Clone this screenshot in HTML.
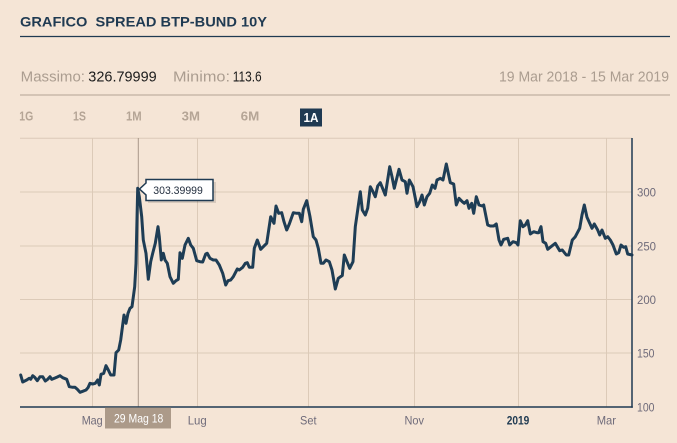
<!DOCTYPE html>
<html><head><meta charset="utf-8"><style>
html,body{margin:0;padding:0;background:#f5e5d6;}
svg{display:block;}
text{font-family:"Liberation Sans",sans-serif;}
</style></head><body>
<svg width="677" height="443" viewBox="0 0 677 443" xmlns="http://www.w3.org/2000/svg">
<rect width="677" height="443" fill="#f5e5d6"/>
<text x="20" y="26.5" font-size="14" font-weight="bold" fill="#1f3a52" textLength="247" lengthAdjust="spacingAndGlyphs">GRAFICO&#160; SPREAD BTP-BUND 10Y</text>
<line x1="20" y1="36.5" x2="670" y2="36.5" stroke="#1f3a52" stroke-width="1.2"/>
<g font-size="15">
<text x="20.7" y="81.5" fill="#ab9d90" textLength="64.3" lengthAdjust="spacingAndGlyphs">Massimo:</text>
<text x="88.3" y="81.5" fill="#1c1c1c" textLength="68.4" lengthAdjust="spacingAndGlyphs">326.79999</text>
<text x="173" y="81.5" fill="#ab9d90" textLength="57" lengthAdjust="spacingAndGlyphs">Minimo:</text>
<text x="232.7" y="81.5" fill="#1c1c1c" textLength="29" lengthAdjust="spacingAndGlyphs">113.6</text>
<text x="499" y="81.5" fill="#ab9d90" textLength="170" lengthAdjust="spacingAndGlyphs">19 Mar 2018 - 15 Mar 2019</text>
</g>
<line x1="20" y1="95" x2="670" y2="95" stroke="#b3a394" stroke-width="1"/>
<g font-size="12.5" font-weight="bold" fill="#b5a596">
<text x="19.3" y="120.3" textLength="14" lengthAdjust="spacingAndGlyphs">1G</text>
<text x="73" y="120.3" textLength="13" lengthAdjust="spacingAndGlyphs">1S</text>
<text x="126" y="120.3" textLength="15.7" lengthAdjust="spacingAndGlyphs">1M</text>
<text x="181.7" y="120.3" textLength="18.3" lengthAdjust="spacingAndGlyphs">3M</text>
<text x="240.7" y="120.3" textLength="18.6" lengthAdjust="spacingAndGlyphs">6M</text>
</g>
<rect x="300" y="108.5" width="22" height="18" fill="#1f3a52"/>
<text x="303.5" y="122" font-size="12.5" font-weight="bold" fill="#ffffff" textLength="15" lengthAdjust="spacingAndGlyphs">1A</text>
<!-- grid -->
<g stroke="#dccab8" stroke-width="1">
<line x1="20" y1="138.3" x2="632" y2="138.3"/>
<line x1="20" y1="192" x2="632" y2="192"/>
<line x1="20" y1="246" x2="632" y2="246"/>
<line x1="20" y1="299.5" x2="632" y2="299.5"/>
<line x1="20" y1="353" x2="632" y2="353"/>
<line x1="92.5" y1="138" x2="92.5" y2="407"/>
<line x1="197.5" y1="138" x2="197.5" y2="407"/>
<line x1="308.5" y1="138" x2="308.5" y2="407"/>
<line x1="414.5" y1="138" x2="414.5" y2="407"/>
<line x1="518.5" y1="138" x2="518.5" y2="407"/>
<line x1="606.5" y1="138" x2="606.5" y2="407"/>
</g>
<line x1="138.3" y1="138" x2="138.3" y2="407" stroke="#a8978a" stroke-width="1"/>
<polyline fill="none" stroke="#1e3d55" stroke-width="3" stroke-linejoin="round" stroke-linecap="round" points="20.7,375 22.7,382 26.7,380 29.3,378.3 30.7,379.3 32.7,375.7 34.7,377.3 37.3,380.7 40,376.7 42.7,376.7 45.3,381 47.7,379.3 50,376.7 51.7,379.3 55,378 57.3,377 60,375.7 62.7,377.7 66.7,379.3 69.3,386.7 72.7,387.3 75,387.3 77.3,389.3 80,392.3 82.7,391.3 86,390 88,387.7 90,383.3 92.7,384 95.3,383.3 97.7,380 99.3,385 101,374.3 103.7,373.3 106,365.7 108.3,370 110.7,375 114,375 116,352.7 118.7,350 120.7,340 124,315 126,323.3 128,313.3 130,308.3 132,306.7 134.7,286.7 136,263.3 137.7,188.3 139.3,196.7 141.7,216.7 143.3,240 146,253.3 148.3,279.3 150.7,261.7 152.7,253.3 155.3,243.3 158,226.7 159.3,236.7 161.3,260 163.3,253.3 165,260 167.3,263.3 170,276.7 173.3,283.3 176,280.7 178.3,279.3 180,252.7 182.3,258.3 185,245 188.3,238.3 190.7,245 193.3,248.3 196.7,260.7 200,261.7 202.7,262 205.7,254 207.3,253.3 210,258.3 213.3,260 216,260 219.3,265 222.7,273.3 225.7,285 228,280.7 230.7,280 233.3,276.7 237.3,269 239.3,270 242.7,267.3 245.3,263.3 247.3,262.7 249.3,267.3 252.7,267.3 254.3,248.3 257.3,240 260.7,249.3 263.3,246.7 266.7,243.3 270.7,216.7 274,223.3 276,206 278.7,213.3 281.7,212.7 284,221.7 286.7,230 289.3,224 293.3,212.7 296.7,213.3 299.3,213.3 301.7,221.7 303.3,209.3 306.7,200.7 310,216.7 313.3,236.7 316,240 318.3,248.3 321,263.3 323.3,263.3 326,260 329.3,261.7 332,270 335.3,289 338.3,278.3 342.3,275.5 344.3,255 349.7,268.3 353,261.7 355.3,226.7 357.7,210 360.3,191.7 362.3,210 365.3,215 367.7,208.3 370.3,186.7 373,191.7 375.3,196.7 377.7,186 380.3,182.7 385.3,195 389.7,166.7 392,176.7 394.3,188.3 399,169.3 402,180 405.3,181.7 407,193.3 409.3,180 413,186.7 417,206.7 419.7,201.7 422,195 424.3,205 427,196.7 429.7,193.3 432.3,185 435,188.3 437,180 440.3,178.3 443,180 446.3,164 450.3,182.7 453.7,184 456.3,205 459,198.3 462.3,201.7 464.3,203.3 467,200.7 469,208.3 471.7,203.3 473.7,213.3 476.3,196.7 479,205 482.3,206 483.7,205 487.7,225 490.3,226 493.7,226 496.3,224 499,240 501,245 503.7,239.3 507.7,238.3 509.7,245 513,241.7 516.3,242.7 518,245 520.3,220.7 523,226.7 525.3,225 527.7,220.7 530.3,234 533.7,231.7 537,232.7 538.7,232.7 541,226.7 543,241.7 545.7,243.3 547.7,249.3 551,246.7 555.3,243.3 559.7,250.7 562.3,250 566.3,255 568.7,255 570.3,248.3 572.3,240 575.3,236.7 579.7,228.3 582,215 584.3,205 587,217.3 592,228.3 594.3,224 597.7,230 599.7,235 602,230 605.3,238.3 607.7,236.7 610.3,240 613,245 616.3,254 618.7,252.7 621,245 623.7,247.3 625.7,246.7 627.7,254 632,255"/>
<!-- axes -->
<line x1="20" y1="407" x2="632.8" y2="407" stroke="#1f3a52" stroke-width="1.5"/>
<line x1="632" y1="138" x2="632" y2="407.7" stroke="#1f3a52" stroke-width="1.5"/>
<g font-size="12" fill="#6f6b7a">
<text x="637" y="196.3" textLength="19" lengthAdjust="spacingAndGlyphs">300</text>
<text x="637" y="250.3" textLength="19" lengthAdjust="spacingAndGlyphs">250</text>
<text x="637" y="303.8" textLength="19" lengthAdjust="spacingAndGlyphs">200</text>
<text x="637" y="357.3" textLength="17.5" lengthAdjust="spacingAndGlyphs">150</text>
<text x="637" y="411.3" textLength="17.5" lengthAdjust="spacingAndGlyphs">100</text>
<text x="81.7" y="424.3" textLength="21" lengthAdjust="spacingAndGlyphs">Mag</text>
<text x="187.7" y="424.3" textLength="19" lengthAdjust="spacingAndGlyphs">Lug</text>
<text x="300" y="424.3" textLength="16.5" lengthAdjust="spacingAndGlyphs">Set</text>
<text x="404.5" y="424.3" textLength="19.5" lengthAdjust="spacingAndGlyphs">Nov</text>
<text x="596.7" y="424.3" textLength="19.3" lengthAdjust="spacingAndGlyphs">Mar</text>
</g>
<text x="506.7" y="424.3" font-size="12" font-weight="bold" fill="#1f3a52" textLength="22.6" lengthAdjust="spacingAndGlyphs">2019</text>
<!-- date box -->
<rect x="105" y="407.5" width="66" height="21" fill="#ac9a89"/>
<text x="114" y="422.3" font-size="12" fill="#ffffff" textLength="49.3" lengthAdjust="spacingAndGlyphs">29 Mag 18</text>
<!-- tooltip -->
<polygon points="148,185 141.5,191 148,197 148,203 216,203 216,182 148,182" fill="#000" fill-opacity="0.12"/>
<polygon points="146,183 139.5,189 146,195 146,200.5 213,200.5 213,179.5 146,179.5" fill="#ffffff" stroke="#1f3a52" stroke-width="1.5" stroke-linejoin="miter"/>
<text x="153.3" y="194" font-size="11" fill="#1f2a3a" textLength="49.5" lengthAdjust="spacingAndGlyphs">303.39999</text>
</svg>
</body></html>
